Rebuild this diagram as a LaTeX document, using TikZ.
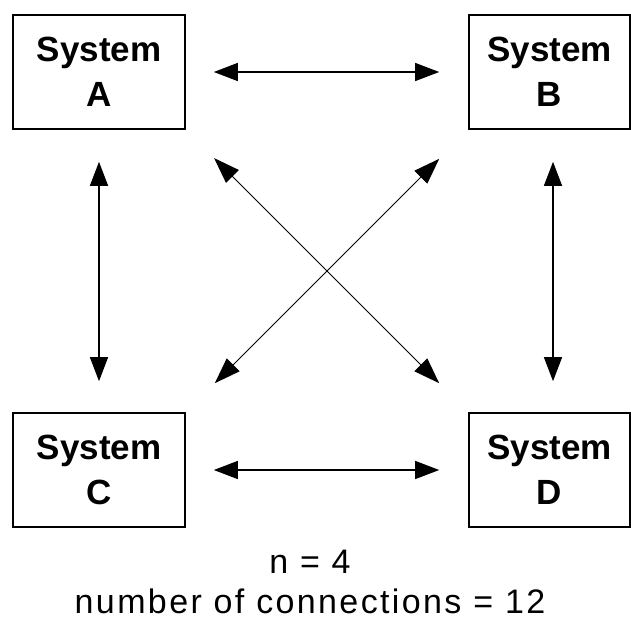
\documentclass[tikz,border=0pt]{standalone}
\usepackage{fontspec}
\setmainfont{Liberation Sans}
\newfontfamily\labelfont[LetterSpace=7]{Liberation Sans}
\usetikzlibrary{arrows.meta}
\begin{document}
\begin{tikzpicture}[x=1pt,y=-1pt,
  sysbox/.style={draw=black, line width=1.6pt, inner sep=0pt, align=center,
    font=\bfseries\fontsize{35}{45}\selectfont},
  conn/.style={line width=1.3pt, {Triangle[length=24pt,width=18pt]}-{Triangle[length=24pt,width=18pt]}},
  diag/.style={line width=0.9pt, {Triangle[length=26pt,width=18pt]}-{Triangle[length=26pt,width=18pt]}},
  caption/.style={anchor=base, inner sep=0pt, font=\labelfont\fontsize{34}{40}\selectfont}
]
\useasboundingbox (0,0) rectangle (631,621);
\node[sysbox, minimum width=172pt, minimum height=114pt] (A) at (99,72) {System\\A};
\node[sysbox, minimum width=161pt, minimum height=114pt] (B) at (549.5,72) {System\\B};
\node[sysbox, minimum width=172pt, minimum height=114pt] (C) at (99,470) {System\\C};
\node[sysbox, minimum width=161pt, minimum height=114pt] (D) at (549.5,470) {System\\D};

\draw[conn, shorten <=28pt, shorten >=29pt] (A.east) -- (B.west);
\draw[conn, shorten <=28pt, shorten >=29pt] (C.east) -- (D.west);
\draw[conn, shorten <=32pt, shorten >=31pt] (A.south) -- (C.north);
\draw[conn, shorten <=32pt, shorten >=31pt] ([xshift=3.5pt]B.south) -- ([xshift=3.5pt]D.north);
\draw[diag, shorten <=40pt, shorten >=41pt] (A.south east) -- (D.north west);
\draw[diag, shorten <=41pt, shorten >=41pt] (B.south west) -- (C.north east);

\node[caption] (n) at (310,573) {n = 4};
\node[caption] (nc) at (310,613) {number of connections = 12};
\end{tikzpicture}
\end{document}
